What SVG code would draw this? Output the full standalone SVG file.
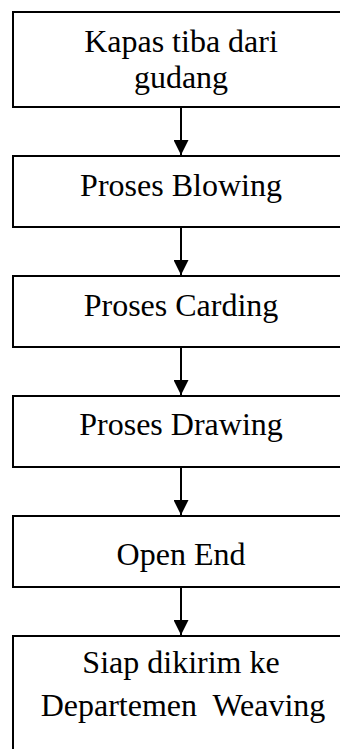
<svg xmlns="http://www.w3.org/2000/svg" width="340" height="749" viewBox="0 0 340 749">
<style>
.box{fill:#fff;stroke:#000;stroke-width:2}
.t{font-family:"Liberation Serif","Times New Roman",serif;font-size:32px;fill:#000;text-anchor:middle}
.c line{stroke:#000;stroke-width:2}
</style>
<defs>
<marker id="ah" markerUnits="userSpaceOnUse" markerWidth="16" markerHeight="15" refX="16" refY="8" orient="auto" viewBox="0 0 16 16">
<path d="M0,0 L16,8 L0,16 Z" fill="#000"/>
</marker>
</defs>
<rect width="340" height="749" fill="#fff"/>
<g id="n1"><rect class="box" x="13" y="12" width="336" height="95"/><text class="t" x="181" y="52">Kapas tiba dari</text><text class="t" x="181" y="88">gudang</text></g>
<g id="n2"><rect class="box" x="13" y="156" width="336" height="71"/><text class="t" x="181" y="196">Proses Blowing</text></g>
<g id="n3"><rect class="box" x="13" y="276" width="336" height="71"/><text class="t" x="181" y="316">Proses Carding</text></g>
<g id="n4"><rect class="box" x="13" y="396" width="336" height="71"/><text class="t" x="181" y="435">Proses Drawing</text></g>
<g id="n5"><rect class="box" x="13" y="516" width="336" height="71"/><text class="t" x="181" y="565">Open End</text></g>
<g id="n6"><rect class="box" x="13" y="636" width="336" height="130"/><text class="t" x="181" y="673">Siap dikirim ke</text><text class="t" x="183" y="716" xml:space="preserve">Departemen  Weaving</text></g>
<g class="c" id="connectors">
<line x1="181" y1="108" x2="181" y2="155" marker-end="url(#ah)"/>
<line x1="181" y1="228" x2="181" y2="275" marker-end="url(#ah)"/>
<line x1="181" y1="348" x2="181" y2="395" marker-end="url(#ah)"/>
<line x1="181" y1="468" x2="181" y2="515" marker-end="url(#ah)"/>
<line x1="181" y1="588" x2="181" y2="635" marker-end="url(#ah)"/>
</g>
</svg>
